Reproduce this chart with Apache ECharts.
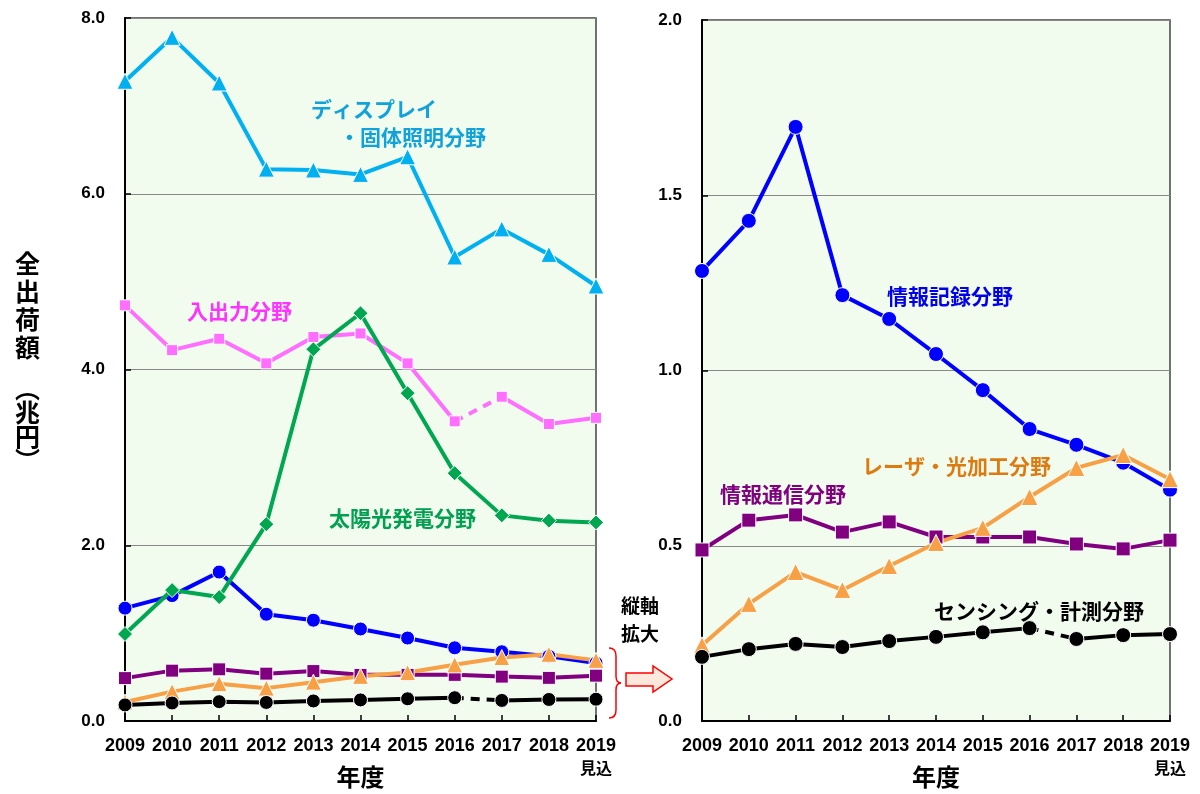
<!DOCTYPE html>
<html><head><meta charset="utf-8">
<script src="https://cdn.jsdelivr.net/npm/echarts@6/dist/echarts.min.js"></script>
<style>html,body{margin:0;padding:0;background:#fff}#c{width:1200px;height:794px}</style>
</head><body><div id="c"></div>
<script>
const years = ['2009','2010','2011','2012','2013','2014','2015','2016','2017','2018','2019'];
const leftTicks = [0, 2, 4, 6, 8];
const rightTicks = [0, 0.5, 1.0, 1.5, 2.0];
const display = [7.28, 7.78, 7.26, 6.28, 6.27, 6.22, 6.42, 5.28, 5.60, 5.31, 4.95];
const inout   = [4.73, 4.22, 4.35, 4.07, 4.37, 4.41, 4.07, 3.41, 3.69, 3.38, 3.45];
const solar   = [0.99, 1.49, 1.41, 2.24, 4.23, 4.64, 3.73, 2.82, 2.34, 2.28, 2.26];
const record  = [1.284, 1.427, 1.695, 1.215, 1.147, 1.047, 0.944, 0.833, 0.788, 0.737, 0.660];
const comm    = [0.488, 0.573, 0.588, 0.539, 0.568, 0.525, 0.525, 0.525, 0.505, 0.491, 0.516];
const laser   = [0.216, 0.334, 0.425, 0.374, 0.442, 0.508, 0.551, 0.639, 0.722, 0.759, 0.690];
const sensing = [0.183, 0.205, 0.220, 0.211, 0.228, 0.240, 0.253, 0.265, 0.234, 0.245, 0.248];

const JP = '"Noto Sans CJK JP", sans-serif';
const LAT = '"Liberation Sans", Arial, sans-serif';
const C = {display:'#00B0F0', inout:'#FF6EFF', solar:'#00A650', record:'#0000FF', comm:'#800080', laser:'#F8A045', sensing:'#000000'};

const chart = echarts.init(document.getElementById('c'), null, {renderer:'canvas'});

function xAxis(gi){
  return {type:'category', gridIndex:gi, data:years, boundaryGap:false,
    axisLine:{lineStyle:{color:'#000', width:2}},
    axisTick:{inside:true, length:6, lineStyle:{color:'#000', width:1.5}},
    axisLabel:{color:'#000', fontFamily:LAT, fontWeight:'bold', fontSize:18, margin:16, interval:0,
      formatter:(v)=> v==='2019' ? '2019\n{s|見込}' : v,
      rich:{s:{fontFamily:JP, fontWeight:'bold', fontSize:16, color:'#000', lineHeight:24, padding:[2,0,0,0]}}},
    name:'年度', nameLocation:'middle', nameGap:44, nameMoveOverlap:false,
    nameTextStyle:{fontFamily:JP, fontWeight:'bold', fontSize:24, color:'#000'}};
}
function yAxis(gi, max, interval){
  return {type:'value', gridIndex:gi, min:0, max:max, interval:interval,
    axisLine:{show:true, lineStyle:{color:'#000', width:2}},
    axisTick:{show:true, inside:true, length:6, lineStyle:{color:'#000', width:1.5}},
    splitLine:{show:true, lineStyle:{color:'#888', width:1.2}},
    axisLabel:{color:'#000', fontFamily:LAT, fontWeight:'bold', fontSize:17, margin:20, formatter:(v)=>v.toFixed(1)}};
}
function line(name, data, gi, color, symbol, size, opts){
  opts = opts || {};
  return {type:'line', name:name, xAxisIndex:gi, yAxisIndex:gi, data:data,
    symbol:symbol, symbolSize:size, showSymbol:symbol!=='none',
    lineStyle:{color:color, width:4, type:opts.dash||'solid'},
    itemStyle:{color:color, borderColor:'#fff', borderWidth:1},
    animation:false, z:opts.z||2};
}
// split a series into solid parts and a dashed 2016-2017 segment
function splitDashed(name, data, gi, color, symbol, size){
  const i16 = years.indexOf('2016'), i17 = years.indexOf('2017');
  const a = data.map((v,i)=> i<=i16 ? v : null);
  const b = data.map((v,i)=> i>=i17 ? v : null);
  const d = data.map((v,i)=> (i===i16||i===i17) ? v : null);
  return [
    line(name+'_d', d, gi, color, 'none', 0, {dash:[9,7]}),
    line(name, a, gi, color, symbol, size, {z:3}),
    line(name+'_b', b, gi, color, symbol, size, {z:3})
  ];
}

const series = [
  line('ディスプレイ・固体照明分野', display, 0, C.display, 'triangle', 16),
  ...splitDashed('入出力分野', inout, 0, C.inout, 'rect', 11),
  line('情報記録分野', record, 0, C.record, 'circle', 14),
  line('情報通信分野', comm, 0, C.comm, 'rect', 13),
  line('レーザ・光加工分野', laser, 0, C.laser, 'triangle', 16),
  ...splitDashed('センシング・計測分野', sensing, 0, C.sensing, 'circle', 14),
  line('太陽光発電分野', solar, 0, C.solar, 'diamond', 15, {z:4}),
  line('情報記録分野R', record, 1, C.record, 'circle', 15),
  line('情報通信分野R', comm, 1, C.comm, 'rect', 14),
  line('レーザ・光加工分野R', laser, 1, C.laser, 'triangle', 17),
  ...splitDashed('センシング・計測分野R', sensing, 1, C.sensing, 'circle', 15)
];

function label(text, x, y, color, size){
  return {type:'text', x:x, y:y, z:10,
    style:{text:text, fill:color, font:'bold '+(size||21)+'px '+JP, align:'left', verticalAlign:'middle'}};
}
function seg(x1,y1,x2,y2){ return {type:'line', z:10, shape:{x1:x1,y1:y1,x2:x2,y2:y2}, style:{stroke:'#FF0000', lineWidth:1.5}}; }
function curve(x1,y1,cx,cy,x2,y2){ return {type:'bezierCurve', z:10, shape:{x1:x1,y1:y1,x2:x2,y2:y2,cpx1:cx,cpy1:cy}, style:{stroke:'#FF0000', lineWidth:1.5, fill:'none'}}; }

chart.setOption({
  backgroundColor:'#fff',
  animation:false,
  grid:[
    {left:125, right:604, top:18, height:703, show:true, backgroundColor:'#F1FCEF', borderColor:'#444', borderWidth:1.5, containLabel:false, outerBoundsMode:'none'},
    {left:702, right:30, top:20, height:701, show:true, backgroundColor:'#F1FCEF', borderColor:'#444', borderWidth:1.5, containLabel:false, outerBoundsMode:'none'}
  ],
  xAxis:[xAxis(0), xAxis(1)],
  yAxis:[yAxis(0, leftTicks[leftTicks.length-1], leftTicks[1]-leftTicks[0]), yAxis(1, rightTicks[rightTicks.length-1], rightTicks[1]-rightTicks[0])],
  series:series,
  graphic:[
    {type:'text', x:15, y:249, z:10, style:{text:'全\n出\n荷\n額', fill:'#000', font:'bold 25px '+JP, lineHeight:28, verticalAlign:'top'}},
    {type:'text', x:15, y:376, z:10, style:{text:'︵\n兆\n円\n︶', fill:'#000', font:'bold 25px '+JP, lineHeight:24, verticalAlign:'top'}},
    label('ディスプレイ', 311, 109, '#12A2DA'),
    label('・固体照明分野', 339, 137, '#12A2DA'),
    label('入出力分野', 187, 311, '#FF33FF'),
    label('太陽光発電分野', 329, 518, '#00A050'),
    label('情報記録分野', 887, 296, '#0000EE'),
    label('レーザ・光加工分野', 862, 466, '#DD7A10'),
    label('情報通信分野', 720, 494, '#800080'),
    label('センシング・計測分野', 934, 611, '#000'),
    {type:'text', x:621, y:592, z:10, style:{text:'縦軸\n拡大', fill:'#000', font:'bold 19px '+JP, lineHeight:28, verticalAlign:'top'}},
    curve(609,648,616,648,616,656), seg(616,656,616,676), curve(616,676,616,683,621,683),
    curve(621,683,616,683,616,690), seg(616,690,616,710), curve(616,710,616,718,609,718),
    {type:'polygon', z:10, shape:{points:[[626,673],[653,673],[653,666],[672,679],[653,692],[653,686],[626,686]]},
      style:{fill:'#FDE9DC', stroke:'#FF0000', lineWidth:1.5}}
  ]
});
</script></body></html>
